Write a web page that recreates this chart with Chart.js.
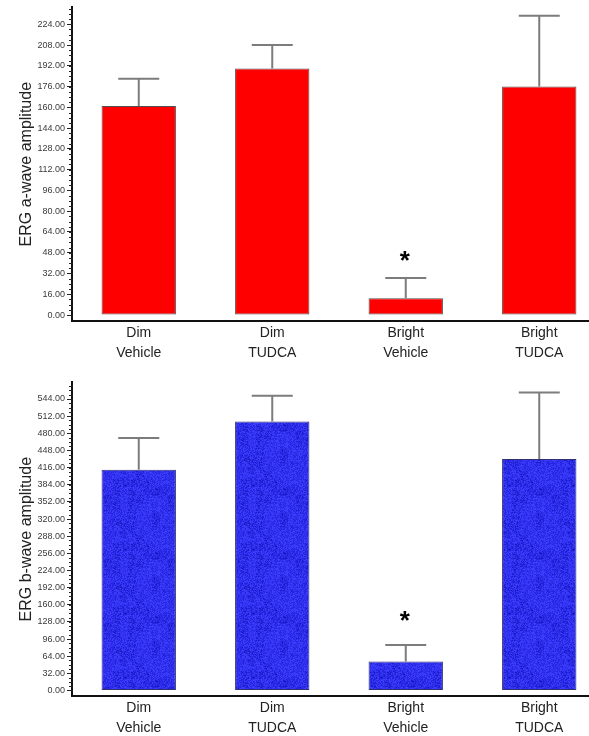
<!DOCTYPE html>
<html><head><meta charset="utf-8">
<script src="https://cdn.jsdelivr.net/npm/chart.js@4.4.0/dist/chart.umd.min.js"></script>
<style>
html,body{margin:0;padding:0;background:#fff;overflow:hidden;width:589px;height:736px;}
.wrap{position:absolute;left:0;}
canvas{display:block;}
</style></head><body>
<div class="wrap" style="top:0"><canvas id="c1" width="606" height="368"></canvas></div>
<div class="wrap" style="top:375px"><canvas id="c2" width="606" height="368"></canvas></div>
<script>
// ---- data ----
const categories = [['Dim','Vehicle'],['Dim','TUDCA'],['Bright','Vehicle'],['Bright','TUDCA']];
const aWaveMeans  = [161, 190, 13, 176];
const aWaveErrors = [21, 18, 15.5, 54.5];
const aWaveTicks  = [0,16,32,48,64,80,96,112,128,144,160,176,192,208,224];
const bWaveMeans  = [412, 502, 54, 432];
const bWaveErrors = [59, 48, 31, 124];
const bWaveTicks  = [0,32,64,96,128,160,192,224,256,288,320,352,384,416,448,480,512,544];
const significance = ['', '', '*', ''];

const FAMILY = "'Liberation Sans', Arial, Helvetica, sans-serif";

function hash(x, y) {
  let h = (Math.imul(x, 73856093) ^ Math.imul(y, 19349663)) >>> 0;
  h ^= h >>> 16; h = Math.imul(h, 0x85ebca6b);
  h ^= h >>> 13; h = Math.imul(h, 0xc2b2ae35);
  h ^= h >>> 16;
  return h >>> 0;
}

function bluePattern(){
  const N = 64;
  const c = document.createElement('canvas');
  c.width = N; c.height = N;
  const g = c.getContext('2d');
  const cols = ['#2f2ff2','#2424dc','#3c3cff','#1a1ac8','#3434ea','#2828e4'];
  for (let y = 0; y < N; y++) for (let x = 0; x < N; x++) {
    const block = hash(x >> 3, y >> 3) & 1;
    const h = hash(x >> 1, y >> 1) ^ hash(x, y + 977);
    let idx = (h >>> 5) % cols.length;
    if (block && idx === 3) idx = 2;
    g.fillStyle = cols[idx];
    g.fillRect(x, y, 1, 1);
  }
  return g.createPattern(c, 'repeat');
}

const extras = {
  id: 'extras',
  afterDatasetsDraw(chart, args, opts) {
    const ctx = chart.ctx, ys = chart.scales.y;
    const meta = chart.getDatasetMeta(0);
    const ds = chart.data.datasets[0];
    ctx.save();
    // error bars
    ctx.strokeStyle = '#7c7c7c'; ctx.lineWidth = 2;
    meta.data.forEach((bar, i) => {
      const top = ys.getPixelForValue(ds.data[i] + opts.errors[i]);
      ctx.beginPath();
      ctx.moveTo(bar.x, bar.y); ctx.lineTo(bar.x, top);
      ctx.moveTo(bar.x - opts.cap / 2, top); ctx.lineTo(bar.x + opts.cap / 2, top);
      ctx.stroke();
      if (opts.marks[i]) {
        ctx.fillStyle = '#000';
        ctx.font = 'bold 26px ' + FAMILY;
        ctx.textAlign = 'center';
        ctx.textBaseline = 'middle';
        ctx.fillText(opts.marks[i], bar.x - 1, top - opts.markGap + 6);
      }
    });
    // minor ticks
    ctx.strokeStyle = '#222'; ctx.lineWidth = 1;
    const ax = ys.right;
    const ticks = opts.ticks;
    const step = (ticks[1] - ticks[0]) / 4;
    for (let v = ticks[0]; v <= ys.max; v += step) {
      const py = Math.round(ys.getPixelForValue(v)) + 0.5;
      ctx.beginPath(); ctx.moveTo(ax - 3, py); ctx.lineTo(ax + 1, py); ctx.stroke();
    }
    ctx.restore();
  }
};

function makeChart(id, means, errors, ticks, yMin, yMax, title, fill, border, markGap) {
  return new Chart(document.getElementById(id), {
    type: 'bar',
    data: {
      labels: categories,
      datasets: [{
        data: means,
        backgroundColor: fill,
        borderColor: border,
        borderWidth: 1,
        borderSkipped: false,
        barPercentage: 0.557,
        categoryPercentage: 1
      }]
    },
    options: {
      responsive: false,
      animation: false,
      devicePixelRatio: 1,
      layout: { padding: { top: 7, left: 0, right: 0, bottom: 0 } },
      plugins: {
        legend: { display: false },
        tooltip: { enabled: false },
        extras: { errors: errors, cap: 41, marks: significance, markGap: markGap, ticks: ticks }
      },
      scales: {
        x: {
          offset: true,
          afterFit: s => { s.height = 47; },
          grid: { display: false, drawTicks: false },
          border: { display: true, color: '#111', width: 2 },
          ticks: { font: { family: FAMILY, size: 14, lineHeight: 1.37 }, color: '#222', padding: 3, maxRotation: 0, autoSkip: false }
        },
        y: {
          min: yMin, max: yMax,
          afterBuildTicks: s => { s.ticks = ticks.map(v => ({ value: v })); },
          afterFit: s => { s.width = 72; },
          ticks: { callback: v => Number(v).toFixed(2), font: { family: FAMILY, size: 9 }, color: '#3a3a3a', padding: 2 },
          grid: { drawOnChartArea: false, drawTicks: true, tickLength: 5, color: '#222', lineWidth: 1 },
          border: { display: true, color: '#111', width: 2 },
          title: { display: true, text: title, font: { family: FAMILY, size: 16 }, color: '#222', padding: { top: 17, bottom: 0 } }
        }
      }
    },
    plugins: [extras]
  });
}

makeChart('c1', aWaveMeans, aWaveErrors, aWaveTicks, -4.6, 237, 'ERG a-wave amplitude', '#ff0000', '#505050', 22);
makeChart('c2', bWaveMeans, bWaveErrors, bWaveTicks, -10.3, 575, 'ERG b-wave amplitude', bluePattern(), '#303070', 29);
</script>
</body></html>
